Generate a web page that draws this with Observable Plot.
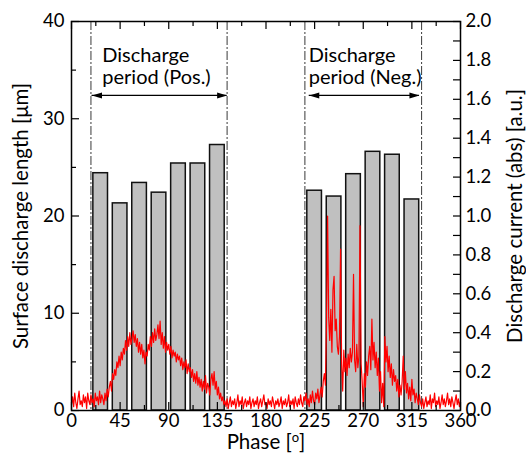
<!DOCTYPE html>
<html><head><meta charset="utf-8">
<script src="https://cdn.jsdelivr.net/npm/d3@7"></script>
<script src="https://cdn.jsdelivr.net/npm/@observablehq/plot@0.6"></script>
<style>body{margin:0;background:#fff}</style>
</head><body><div id="chart"></div>
<script>
// Bars: surface discharge length [μm] by phase bin centre
const posPhase = [27, 45, 63, 81, 99, 117, 135];
const posLength = [24.4, 21.3, 23.4, 22.4, 25.4, 25.4, 27.3];
const negPhase = [225, 243, 261, 279, 297, 315];
const negLength = [22.6, 22.0, 24.3, 26.6, 26.3, 21.7];

// Discharge current (abs) [a.u.], one reading per degree, 0..360
const current = [
0.03,0.07,0.02,0.09,0.04,0.01,0.06,0.10,0.03,0.05,
0.02,0.08,0.04,0.07,0.01,0.09,0.05,0.03,0.08,0.04,
0.06,0.02,0.09,0.05,0.07,0.03,0.10,0.04,0.08,0.06,
0.03,0.09,0.05,0.11,0.07,0.12,0.15,0.10,0.19,0.16,
0.21,0.18,0.25,0.22,0.28,0.23,0.30,0.26,0.32,0.29,
0.36,0.31,0.38,0.33,0.40,0.34,0.37,0.41,0.35,0.39,
0.33,0.37,0.30,0.35,0.29,0.34,0.27,0.31,0.24,0.30,
0.28,0.34,0.31,0.38,0.33,0.40,0.35,0.42,0.36,0.39,
0.44,0.37,0.46,0.34,0.40,0.32,0.38,0.30,0.35,0.31,
0.34,0.29,0.33,0.27,0.31,0.28,0.30,0.25,0.29,0.26,
0.28,0.23,0.27,0.21,0.25,0.22,0.26,0.19,0.24,0.20,
0.22,0.17,0.21,0.15,0.19,0.14,0.20,0.13,0.17,0.12,
0.16,0.10,0.15,0.11,0.18,0.09,0.14,0.12,0.08,0.16,
0.19,0.13,0.20,0.11,0.15,0.08,0.12,0.06,0.09,0.05,
0.07,0.03,0.05,0.02,0.06,0.01,0.04,0.07,0.02,0.05,
0.03,0.06,0.01,0.04,0.08,0.02,0.05,0.03,0.07,0.01,
0.04,0.06,0.02,0.05,0.03,0.07,0.01,0.04,0.06,0.02,
0.05,0.03,0.07,0.01,0.04,0.06,0.02,0.05,0.08,0.03,
0.04,0.01,0.06,0.03,0.05,0.02,0.07,0.04,0.01,0.05,
0.03,0.06,0.02,0.04,0.07,0.01,0.05,0.03,0.06,0.02,
0.04,0.08,0.02,0.05,0.03,0.06,0.01,0.07,0.04,0.02,
0.06,0.03,0.08,0.04,0.02,0.07,0.05,0.09,0.03,0.06,
0.02,0.08,0.04,0.10,0.05,0.03,0.09,0.06,0.11,0.04,
0.08,0.12,0.07,0.15,0.19,0.13,0.45,1.00,0.48,0.36,
0.52,0.30,0.62,0.69,0.41,0.47,0.33,0.29,0.38,0.83,
0.24,0.10,0.31,0.20,0.27,0.18,0.29,0.22,0.32,0.25,
0.30,0.70,0.26,0.20,0.34,0.22,0.28,0.95,0.24,0.15,
0.02,0.19,0.12,0.25,0.18,0.28,0.33,0.21,0.47,0.26,
0.35,0.22,0.30,0.18,0.27,0.10,0.20,0.04,0.14,0.02,
0.38,0.25,0.33,0.20,0.28,0.17,0.24,0.13,0.21,0.15,
0.18,0.10,0.16,0.07,0.13,0.08,0.15,0.28,0.11,0.20,
0.09,0.14,0.06,0.12,0.05,0.16,0.08,0.11,0.04,0.09,
0.06,0.03,0.08,0.04,0.02,0.06,0.01,0.04,0.07,0.02,
0.05,0.03,0.08,0.01,0.06,0.04,0.09,0.02,0.05,0.03,
0.07,0.01,0.04,0.08,0.03,0.06,0.02,0.05,0.09,0.03,
0.06,0.02,0.07,0.04,0.01,0.05,0.08,0.03,0.06,0.02,0.05
];

const periodBounds = [18, 144, 216, 324];
const xTickLabels = [0, 45, 90, 135, 180, 225, 270, 315, 360];
const xMinorTicks = [22.5, 67.5, 112.5, 157.5, 202.5, 247.5, 292.5, 337.5];
const leftTickLabels = [0, 10, 20, 30, 40];
const leftMinorTicks = [5, 15, 25, 35];
const rightTickLabels = [0, 0.2, 0.4, 0.6, 0.8, 1.0, 1.2, 1.4, 1.6, 1.8, 2.0];
const rightMinorTicks = [0.1, 0.3, 0.5, 0.7, 0.9, 1.1, 1.3, 1.5, 1.7, 1.9];
const annotations = [
  {x: 28.5, label: "Discharge\nperiod (Pos.)", from: 19, to: 144},
  {x: 219.5, label: "Discharge\nperiod (Neg.)", from: 220, to: 322}
];
const arrowLevel = 32.4;
const currentMax = 2.0, lengthMax = 40;
const k = lengthMax / currentMax;

const bars = posPhase.map((p, i) => ({phase: p, length: posLength[i]}))
  .concat(negPhase.map((p, i) => ({phase: p, length: negLength[i]})));
const currentData = current.map((v, i) => ({phase: i, v}));

const W = 526, H = 455, mL = 71, mR = 66, mT = 21, mB = 45;
const pw = W - mL - mR, ph = H - mT - mB;
const font = "Lato, 'Open Sans', sans-serif";

const headRight = {draw(ctx) { ctx.moveTo(0, 0); ctx.lineTo(-10, -3); ctx.lineTo(-10, 3); ctx.closePath(); }};
const heads = annotations.flatMap(a => [{x: a.from, r: 180}, {x: a.to, r: 0}]);

const chart = Plot.plot({
  width: W, height: H,
  marginLeft: mL, marginRight: mR, marginTop: mT, marginBottom: mB,
  x: {domain: [0, 360]},
  y: {domain: [0, lengthMax]},
  style: {fontFamily: font, background: "#fff"},
  marks: [
    Plot.ruleX(periodBounds, {x: d => d, stroke: "#222", strokeWidth: 0.9, strokeDasharray: "9,2,2,2"}),
    Plot.rectY(bars, {x1: d => d.phase - 9, x2: d => d.phase + 9, y: "length", insetLeft: 2.4, insetRight: 2.4,
      fill: "#c0c0c0", stroke: "#111", strokeWidth: 1.5}),
    Plot.line(currentData, {x: "phase", y: d => d.v * k, stroke: "#ff0000", strokeWidth: 1.2}),
    Plot.ruleY(annotations, {y: arrowLevel, x1: "from", x2: "to", stroke: "#000", strokeWidth: 1.2}),
    Plot.dot(heads, {x: "x", y: arrowLevel, rotate: "r", symbol: headRight, fill: "#000", stroke: "none"}),
    Plot.text(annotations, {x: "x", y: lengthMax, text: "label", textAnchor: "start", lineAnchor: "top",
      dy: 25, fontSize: 20, lineHeight: 1.1, fill: "#000"}),
    // inward ticks
    Plot.tickY(leftTickLabels, {y: d => d, insetRight: pw - 8, stroke: "#000", strokeWidth: 1.2}),
    Plot.tickY(leftMinorTicks, {y: d => d, insetRight: pw - 5, stroke: "#000", strokeWidth: 1.2}),
    Plot.tickY(rightTickLabels.concat(rightMinorTicks), {y: d => d * k, insetLeft: pw - 7, stroke: "#000", strokeWidth: 1.2}),
    Plot.tickX(xTickLabels, {x: d => d, insetTop: ph - 8, stroke: "#000", strokeWidth: 1.2}),
    Plot.tickX(xMinorTicks, {x: d => d, insetTop: ph - 5, stroke: "#000", strokeWidth: 1.2}),
    Plot.tickX(xTickLabels, {x: d => d, insetBottom: ph - 8, stroke: "#000", strokeWidth: 1.2}),
    Plot.tickX(xMinorTicks, {x: d => d, insetBottom: ph - 5, stroke: "#000", strokeWidth: 1.2}),
    Plot.frame({stroke: "#000", strokeWidth: 1.5}),
    Plot.axisX({ticks: xTickLabels, anchor: "bottom", tickSize: 0, tickPadding: 3, fontSize: 18.5, label: null, tickFormat: d => String(d)}),
    Plot.axisY({ticks: leftTickLabels, anchor: "left", tickSize: 0, tickPadding: 7, fontSize: 18.5, label: null, tickFormat: d => String(d)}),
    Plot.axisY({ticks: rightTickLabels.map(d => d * k), anchor: "right", tickSize: 0, tickPadding: 5, fontSize: 18.5, label: null,
      tickFormat: d => (d / k).toFixed(1)}),
    Plot.text(["Phase [o]"], {frameAnchor: "bottom", dy: 38, fontSize: 20.5, fill: "#000"}),
    Plot.text(["Surface discharge length [μm]"], {frameAnchor: "left", textAnchor: "middle", dx: -50, rotate: -90, fontSize: 20.5, fill: "#000"}),
    Plot.text(["Discharge current (abs) [a.u.]"], {frameAnchor: "right", textAnchor: "middle", dx: 55, rotate: -90, fontSize: 20.5, fill: "#000"})
  ]
});
document.getElementById("chart").appendChild(chart);

// superscript degree mark in the x-axis title
d3.select(chart).selectAll("text").filter(function() { return this.textContent === "Phase [o]"; })
  .each(function() {
    const t = d3.select(this);
    t.text(null);
    t.append("tspan").text("Phase [");
    t.append("tspan").attr("font-size", 13).attr("dy", -7).text("o");
    t.append("tspan").attr("dy", 7).text("]");
  });
</script>
</body></html>
